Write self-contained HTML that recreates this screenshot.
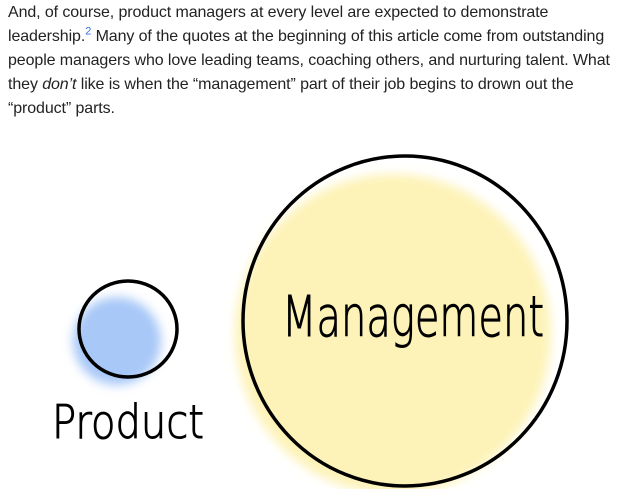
<!DOCTYPE html>
<html><head><meta charset="utf-8"><style>
html,body{margin:0;padding:0;background:#fff;width:638px;height:489px;overflow:hidden}
p{position:absolute;left:8px;top:1px;margin:0;width:625px;font:16px/24px "Liberation Sans",sans-serif;color:#222;letter-spacing:-0.1px}
sup{color:#3b6fd8;font-size:11px;line-height:0}
svg{position:absolute;left:0;top:0}
</style></head><body>
<p>And, of course, product managers at every level are expected to demonstrate leadership.<sup>2</sup> Many of the quotes at the beginning of this article come from outstanding people managers who love leading teams, coaching others, and nurturing talent. What they <i>don’t</i> like is when the “management” part of their job begins to drown out the “product” parts.</p>
<svg width="638" height="489" viewBox="0 0 638 489">
<defs>
<filter id="b" x="-30%" y="-30%" width="160%" height="160%"><feGaussianBlur stdDeviation="5"/></filter>
</defs>
<ellipse cx="393" cy="334" rx="158" ry="160" fill="#fdf3b8" filter="url(#b)"/>
<ellipse cx="405" cy="321" rx="162" ry="165" fill="none" stroke="#000" stroke-width="3.5"/>
<circle cx="117" cy="341" r="44" fill="#a8c8f8" filter="url(#b)"/>
<ellipse cx="128" cy="329" rx="49" ry="48" fill="none" stroke="#000" stroke-width="3.5"/>
<text x="282" y="336" font-family="DejaVu Sans, sans-serif" font-size="56" font-weight="200" fill="#000" textLength="262" lengthAdjust="spacingAndGlyphs" stroke="#000" stroke-width="1">Management</text>
<text x="52" y="438" font-family="DejaVu Sans, sans-serif" font-size="46" font-weight="200" fill="#000" textLength="152" lengthAdjust="spacingAndGlyphs" stroke="#000" stroke-width="1">Product</text>
</svg>
</body></html>
